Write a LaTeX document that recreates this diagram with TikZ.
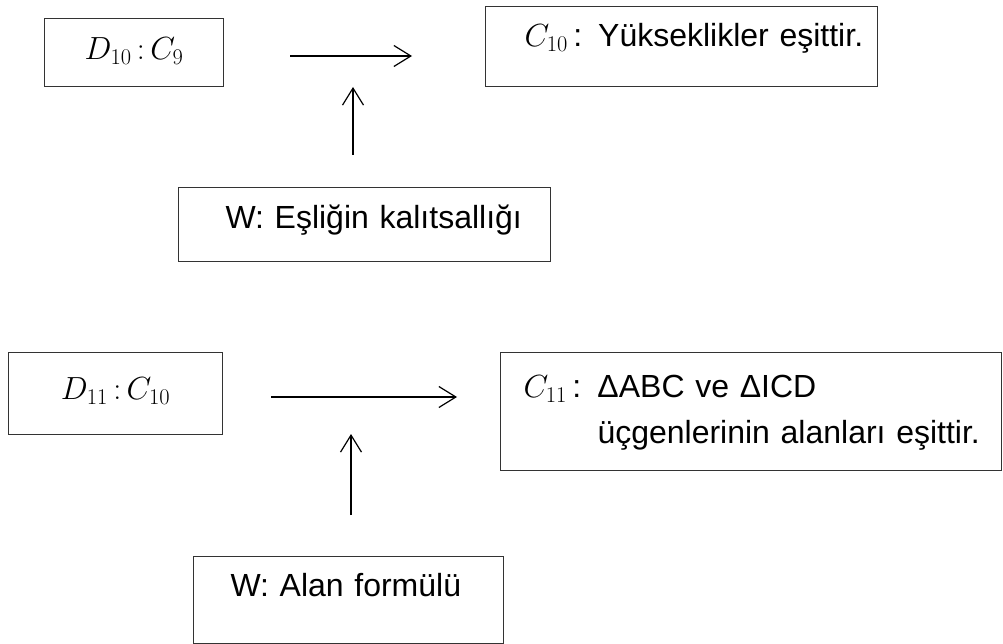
\RequirePackage{fix-cm}
\documentclass[tikz,border=0pt]{standalone}
\usepackage{fontspec}
\setmainfont{Liberation Sans}
\usetikzlibrary{arrows.meta}

\begin{document}
\begin{tikzpicture}[x=1pt, y=-1pt,
  box/.style={draw=black!80, line width=1pt, anchor=north west, inner sep=0pt,
              font=\fontsize{32}{46}\selectfont},
  flow/.style={line width=1.2pt, -{Straight Barb[length=17pt,width=21pt]}}]
\useasboundingbox (0,0) rectangle (1003,644);

% first argument: data, warrant, claim
\node[box, align=center, text width=179pt, text height=41pt, text depth=27pt]
  (d10) at (44,18) {$D_{10}\,{:}\,C_9$};
\node[box, align=left, text width=392pt, text height=40pt, text depth=40pt]
  (c10) at (485,6) {\hspace*{39pt}$C_{10}$\,: Yükseklikler eşittir.};
\node[box, align=left, text width=372pt, text height=41pt, text depth=33pt]
  (w1) at (178,187) {\hspace*{47pt}W: Eşliğin kalıtsallığı};

\coordinate (h1a) at (290,56);
\coordinate (h1b) at (412,56);
\coordinate (v1a) at (353,155);
\coordinate (v1b) at (353,87);
\draw[flow] (h1a) -- (h1b);
\draw[flow] (v1a) -- (v1b);

% second argument: data, warrant, claim
\node[box, align=center, text width=214pt, text height=47pt, text depth=35pt]
  (d11) at (8,352) {$D_{11}\,{:}\,C_{10}$};
\node[box, align=left, text width=501pt, text height=45pt, text depth=73pt]
  (c11) at (500,352)
  {\hspace*{23pt}\makebox[74pt][l]{$C_{11}$\,:}ΔABC ve ΔICD\\
   \hspace*{97pt}üçgenlerinin alanları eşittir.};
\node[box, align=left, text width=310pt, text height=40pt, text depth=47pt]
  (w2) at (193,556) {\hspace*{37pt}W: Alan formülü};

\coordinate (h2a) at (271,397);
\coordinate (h2b) at (457,397);
\coordinate (v2a) at (351,515);
\coordinate (v2b) at (351,434);
\draw[flow] (h2a) -- (h2b);
\draw[flow] (v2a) -- (v2b);
\end{tikzpicture}
\end{document}
